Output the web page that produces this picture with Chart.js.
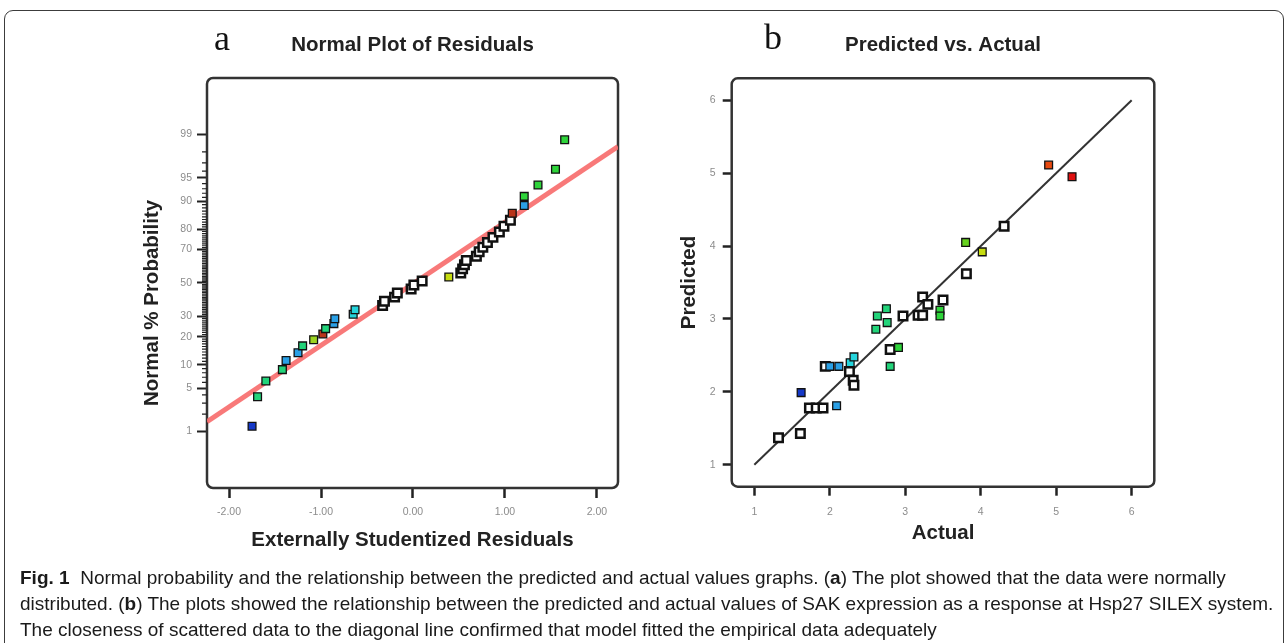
<!DOCTYPE html>
<html>
<head>
<meta charset="utf-8">
<title>Normal plot of residuals and predicted vs. actual</title>
<script src="https://cdn.jsdelivr.net/npm/chart.js@4.4.1/dist/chart.umd.min.js"></script>
<style>
  html, body { margin:0; padding:0; background:#fff; }
  body { width:1288px; height:643px; position:relative; overflow:hidden; }
  #frame { position:absolute; left:4px; top:10px; width:1280px; height:700px; border:1.5px solid #3c3c3c; border-radius:9px; box-sizing:border-box; }
  canvas { position:absolute; }
  #chartA { left:100px; top:12px; }
  #chartB { left:640px; top:12px; }
  .panel { position:absolute; font-family:'Liberation Serif','DejaVu Serif',serif; font-size:36px; line-height:36px; color:#111; }
  #caption { position:absolute; left:20px; top:565px; font-family:'Liberation Sans',Arial,sans-serif; font-size:19px; line-height:26px; color:#1a1a1a; white-space:nowrap; }
</style>
</head>
<body>
<div id="frame"></div>
<canvas id="chartA" width="625" height="560"></canvas>
<canvas id="chartB" width="606" height="560"></canvas>
<div class="panel" style="left:214px;top:20px;">a</div>
<div class="panel" style="left:764px;top:19px;">b</div>
<div id="caption"><b>Fig. 1</b>&nbsp; Normal probability and the relationship between the predicted and actual values graphs. (<b>a</b>) The plot showed that the data were normally<br>distributed. (<b>b</b>) The plots showed the relationship between the predicted and actual values of SAK expression as a response at Hsp27 SILEX system.<br>The closeness of scattered data to the diagonal line confirmed that model fitted the empirical data adequately</div>
<script>
// ---------------- data: (a) normal plot of residuals ----------------
const residuals = [-1.75, -1.69, -1.60, -1.42, -1.38, -1.25, -1.20, -1.08, -0.98, -0.95,
                   -0.86, -0.85, -0.65, -0.63, -0.33, -0.31, -0.20, -0.17, -0.02, 0.01,
                    0.10, 0.39, 0.52, 0.54, 0.56, 0.58, 0.69, 0.72, 0.76, 0.81,
                    0.87, 0.94, 0.99, 1.06, 1.08, 1.21, 1.21, 1.36, 1.55, 1.65];
const normalPct = [1.25, 3.75, 6.25, 8.75, 11.25, 13.75, 16.25, 18.75, 21.25, 23.75,
                   26.25, 28.75, 31.25, 33.75, 36.25, 38.75, 41.25, 43.75, 46.25, 48.75,
                   51.25, 53.75, 56.25, 58.75, 61.25, 63.75, 66.25, 68.75, 71.25, 73.75,
                   76.25, 78.75, 81.25, 83.75, 86.25, 88.75, 91.25, 93.75, 96.25, 98.75];
const residGroup = ['B','T','T','T','L','L','T','Y','R','T',
                    'L','L','C','C','W','W','W','W','W','W',
                    'W','K','W','W','W','W','W','W','W','W',
                    'W','W','W','W','R','L','G','G','G','G'];
const fitLineResid = [-2.24, 2.23];
const fitLinePct = [1.49, 98.37];
const residTicks = [-2, -1, 0, 1, 2];
const residRange = [-2.24, 2.23];
const probMajorTicks = [1, 5, 10, 20, 30, 50, 70, 80, 90, 95, 99];
const probMinorTicks = [2,3,4,6,7,8,9,11,12,13,14,15,16,17,18,19,21,22,23,24,25,26,27,28,29,
                        31,32,33,34,35,36,37,38,39,40,41,42,43,44,45,46,47,48,49,
                        51,52,53,54,55,56,57,58,59,60,61,62,63,64,65,66,67,68,69,
                        71,72,73,74,75,76,77,78,79,81,82,83,84,85,86,87,88,89,91,92,93,94,96,97,98];
const probRange = [0.0665, 99.9335];

// ---------------- data: (b) predicted vs. actual ----------------
const actual    = [1.32, 1.61, 1.62, 1.73, 1.82, 1.91, 2.09, 1.94, 2.00, 2.12,
                   2.27, 2.32, 2.26, 2.31, 2.32, 2.61, 2.63, 2.75, 2.76, 2.80,
                   2.91, 2.80, 2.97, 3.17, 3.23, 3.23, 3.30, 3.50, 3.46, 3.46,
                   3.81, 3.80, 4.02, 4.31, 4.90, 5.21];
const predicted = [1.37, 1.43, 1.99, 1.78, 1.78, 1.78, 1.81, 2.35, 2.35, 2.35,
                   2.40, 2.48, 2.28, 2.16, 2.09, 2.86, 3.04, 3.14, 2.95, 2.58,
                   2.61, 2.35, 3.04, 3.05, 3.05, 3.30, 3.20, 3.26, 3.12, 3.04,
                   3.62, 4.05, 3.92, 4.27, 5.11, 4.95];
const predGroup = ['W','W','B','W','W','W','L','W','L','L',
                   'C','C','W','W','W','T','T','T','T','W',
                   'G','T','W','W','W','W','W','W','G','G',
                   'W','H','K','W','O','D'];
const diagLine = [1, 6];
const unitTicks = [1, 2, 3, 4, 5, 6];
const unitRange = [0.7, 6.3];

// ---------------- styling ----------------
const PALETTE = { W:'#ffffff', B:'#1438c8', L:'#2aa0e6', C:'#24d4dc', T:'#22d47a', G:'#2ed43a',
                  H:'#66d21e', Y:'#9cd422', K:'#c6dc10', R:'#b8341a', O:'#e84a10', D:'#e01010' };
const FONT = "'Liberation Sans',Arial,sans-serif";
Chart.defaults.font.family = FONT;

function probit(p) {
  const a = [-3.969683028665376e+01, 2.209460984245205e+02, -2.759285104469687e+02, 1.383577518672690e+02, -3.066479806614716e+01, 2.506628277459239e+00];
  const b = [-5.447609879822406e+01, 1.615858368580409e+02, -1.556989798598866e+02, 6.680131188771972e+01, -1.328068155288572e+01];
  const c = [-7.784894002430293e-03, -3.223964580411365e-01, -2.400758277161838e+00, -2.549671010676685e+00, 4.374664141464968e+00, 2.938163982698783e+00];
  const d = [7.784695709041462e-03, 3.224671290700398e-01, 2.445134137142996e+00, 3.754408661907416e+00];
  const pl = 0.02425, ph = 1 - pl;
  let q, r;
  if (p < pl) {
    q = Math.sqrt(-2 * Math.log(p));
    return (((((c[0]*q+c[1])*q+c[2])*q+c[3])*q+c[4])*q+c[5]) / ((((d[0]*q+d[1])*q+d[2])*q+d[3])*q+1);
  }
  if (p > ph) {
    q = Math.sqrt(-2 * Math.log(1 - p));
    return -(((((c[0]*q+c[1])*q+c[2])*q+c[3])*q+c[4])*q+c[5]) / ((((d[0]*q+d[1])*q+d[2])*q+d[3])*q+1);
  }
  q = p - 0.5; r = q * q;
  return (((((a[0]*r+a[1])*r+a[2])*r+a[3])*r+a[4])*r+a[5])*q / (((((b[0]*r+b[1])*r+b[2])*r+b[3])*r+b[4])*r+1);
}

const plotFrame = {
  id: 'plotFrame',
  beforeDatasetsDraw(chart, args, opts) {
    const { ctx, chartArea: a } = chart;
    ctx.save();
    ctx.lineWidth = opts.width;
    ctx.strokeStyle = opts.color;
    ctx.beginPath();
    ctx.roundRect(a.left, a.top, a.right - a.left, a.bottom - a.top, opts.radius);
    ctx.stroke();
    ctx.restore();
  }
};
const minorTicks = {
  id: 'minorTicks',
  afterDraw(chart, args, opts) {
    if (!opts.values) return;
    const s = chart.scales.y, ctx = chart.ctx;
    ctx.save();
    ctx.strokeStyle = opts.color;
    ctx.lineWidth = opts.width;
    ctx.beginPath();
    opts.values.forEach(p => {
      const y = s.getPixelForValue(probit(p / 100));
      ctx.moveTo(s.right - opts.length, y);
      ctx.lineTo(s.right, y);
    });
    ctx.stroke();
    ctx.restore();
  }
};

const titleFont = { size: 20.5, weight: 'bold' };
const tickFont = { size: 10.5 };
const TICK_COLOR = '#8c8c8c';
const INK = '#222';

function pointStyleFor(groups) {
  return {
    pointStyle: 'rect',
    backgroundColor: groups.map(g => PALETTE[g]),
    borderColor: '#111',
    borderWidth: groups.map(g => g === 'W' ? 2.5 : 1.3),
    pointRadius: groups.map(g => g === 'W' ? 6 : 5.5),
    pointHoverRadius: groups.map(g => g === 'W' ? 6 : 5.5)
  };
}
// an empty right-hand axis of the same width as the left one keeps the title centred over the plot box
function balanceAxis(width) {
  return {
    type: 'linear', position: 'right', display: true,
    afterFit: s => { s.width = width; },
    ticks: { display: false }, grid: { display: false }, border: { display: false }, title: { display: false }
  };
}

// ---------------- chart (a) ----------------
new Chart(document.getElementById('chartA'), {
  type: 'scatter',
  data: {
    datasets: [
      Object.assign({
        label: 'Residuals',
        data: residuals.map((x, i) => ({ x: x, y: probit(normalPct[i] / 100) })),
        order: 0
      }, pointStyleFor(residGroup)),
      {
        type: 'line',
        label: 'Normal line',
        data: fitLineResid.map((x, i) => ({ x: x, y: probit(fitLinePct[i] / 100) })),
        borderColor: 'rgba(247,110,110,0.92)',
        borderWidth: 5,
        pointRadius: 0,
        order: 1
      }
    ]
  },
  options: {
    responsive: false, animation: false,
    layout: { padding: 0 },
    plugins: {
      legend: { display: false }, tooltip: { enabled: false },
      title: { display: true, text: 'Normal Plot of Residuals', font: titleFont, color: INK, padding: { top: 20.7, bottom: 20.7 } },
      plotFrame: { width: 2.5, color: '#333', radius: 6 },
      minorTicks: { values: probMinorTicks, length: 5, width: 1.2, color: '#222' }
    },
    scales: {
      x: {
        type: 'linear', min: residRange[0], max: residRange[1],
        afterFit: s => { s.height = 84; },
        afterBuildTicks: s => { s.ticks = residTicks.map(v => ({ value: v })); },
        ticks: { autoSkip: false, padding: 8, color: TICK_COLOR, font: tickFont, callback: v => v.toFixed(2) },
        grid: { drawOnChartArea: false, tickLength: 10, tickWidth: 2.5, tickColor: INK },
        border: { display: false },
        title: { display: true, text: 'Externally Studentized Residuals', font: titleFont, color: INK, padding: { top: 0, bottom: 19.7 } }
      },
      y: {
        type: 'linear', min: probit(probRange[0] / 100), max: probit(probRange[1] / 100),
        afterFit: s => { s.width = 107; },
        afterBuildTicks: s => { s.ticks = probMajorTicks.map(p => ({ value: probit(p / 100) })); },
        ticks: { autoSkip: false, padding: 5, color: TICK_COLOR, font: tickFont, callback: (v, i) => String(probMajorTicks[i]) },
        grid: { drawOnChartArea: false, tickLength: 10, tickWidth: 2, tickColor: INK },
        border: { display: false },
        title: { display: true, text: 'Normal % Probability       ', font: titleFont, color: INK, padding: { top: 39.7, bottom: 0 } }
      },
      yBalance: balanceAxis(107)
    }
  },
  plugins: [plotFrame, minorTicks]
});

// ---------------- chart (b) ----------------
new Chart(document.getElementById('chartB'), {
  type: 'scatter',
  data: {
    datasets: [
      Object.assign({
        label: 'Runs',
        data: actual.map((x, i) => ({ x: x, y: predicted[i] })),
        order: 0
      }, pointStyleFor(predGroup)),
      {
        type: 'line',
        label: 'Diagonal',
        data: diagLine.map(v => ({ x: v, y: v })),
        borderColor: '#333',
        borderWidth: 2,
        pointRadius: 0,
        order: 1
      }
    ]
  },
  options: {
    responsive: false, animation: false,
    layout: { padding: 0 },
    plugins: {
      legend: { display: false }, tooltip: { enabled: false },
      title: { display: true, text: 'Predicted vs. Actual', font: titleFont, color: INK, padding: { top: 20.85, bottom: 20.85 } },
      plotFrame: { width: 2.5, color: '#333', radius: 6 },
      minorTicks: { values: null }
    },
    scales: {
      x: {
        type: 'linear', min: unitRange[0], max: unitRange[1],
        afterFit: s => { s.height = 85.3; },
        afterBuildTicks: s => { s.ticks = unitTicks.map(v => ({ value: v })); },
        ticks: { autoSkip: false, padding: 10, color: TICK_COLOR, font: tickFont, callback: v => String(v) },
        grid: { drawOnChartArea: false, tickLength: 9, tickWidth: 2.5, tickColor: INK },
        border: { display: false },
        title: { display: true, text: 'Actual', font: titleFont, color: INK, padding: { top: 0, bottom: 26.7 } }
      },
      y: {
        type: 'linear', min: unitRange[0], max: unitRange[1],
        afterFit: s => { s.width = 91.7; },
        afterBuildTicks: s => { s.ticks = unitTicks.map(v => ({ value: v })); },
        ticks: { autoSkip: false, padding: 7, color: TICK_COLOR, font: tickFont, callback: v => String(v) },
        grid: { drawOnChartArea: false, tickLength: 9, tickWidth: 2.5, tickColor: INK },
        border: { display: false },
        title: { display: true, text: 'Predicted', font: titleFont, color: INK, padding: { top: 36.7, bottom: 0 } }
      },
      yBalance: balanceAxis(91.7)
    }
  },
  plugins: [plotFrame, minorTicks]
});
</script>
</body>
</html>
